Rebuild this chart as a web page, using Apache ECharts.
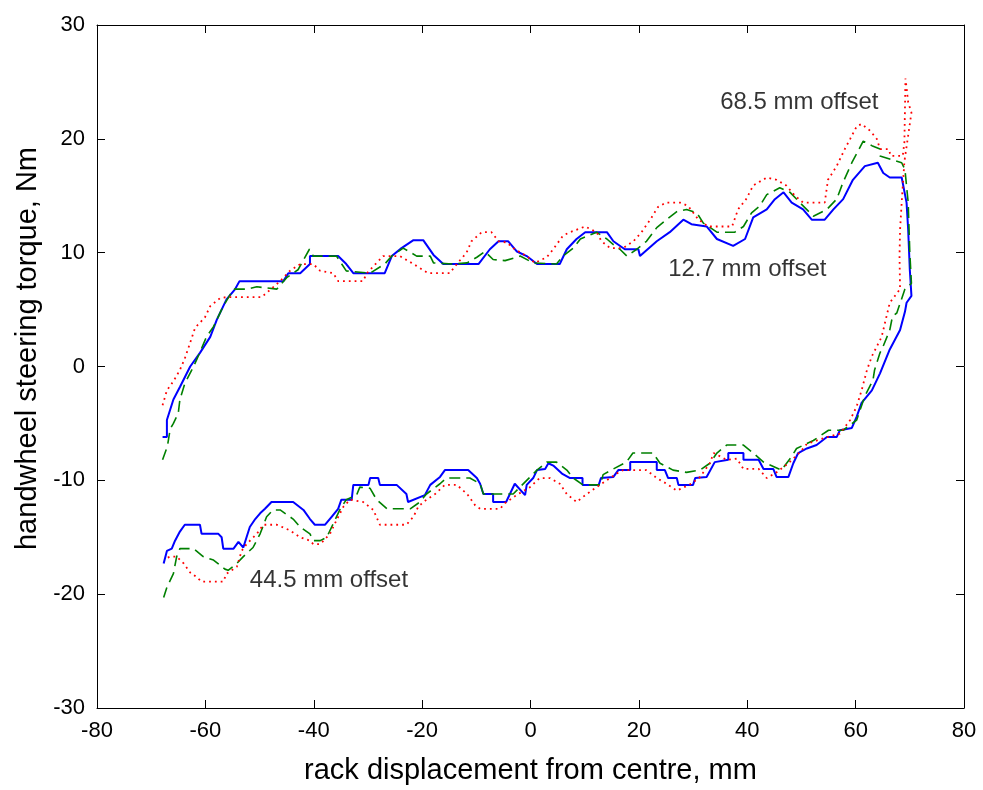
<!DOCTYPE html>
<html>
<head>
<meta charset="utf-8">
<script src="https://cdn.jsdelivr.net/npm/echarts@6/dist/echarts.min.js"></script>
<style>
  html, body { margin: 0; padding: 0; background: #fff; }
  #chart { width: 983px; height: 790px; }
</style>
</head>
<body>
<div id="chart"></div>
<script>
// 12.7 mm offset, solid blue: upper branch left->right, then lower branch right->left
var blueLoop = [
  [-67.9,-6.2],[-67.1,-6.2],[-67.1,-4.7],[-65.9,-2.9],[-64.7,-1.8],[-62.8,0],[-61,1.2],[-59.1,2.6],
  [-57.9,4.1],[-56.1,5.9],[-54.5,6.8],[-53.7,7.5],[-45.6,7.5],[-44.7,8.2],[-42.5,8.2],[-40.7,9.0],
  [-40.7,9.7],[-35.5,9.7],[-34,9.0],[-32.7,8.2],[-26.9,8.2],[-25.6,9.7],[-23.8,10.4],[-21.6,11.1],
  [-19.8,11.1],[-17.9,9.8],[-16.1,9.0],[-9.6,9.0],[-7.5,10.3],[-5.9,11.0],[-4.1,11.0],[-2.5,10.1],
  [-0.7,9.7],[1.2,9.0],[5.4,9.0],[6.7,10.3],[8.5,11.2],[10.1,11.8],[14.1,11.8],[15.3,11.0],
  [17.4,10.3],[19.9,10.3],[20.2,9.7],[23.3,11.0],[25.7,11.8],[28.2,12.9],[29.7,12.5],[32.5,12.3],
  [34.4,11.2],[37.4,10.6],[39.6,11.2],[41.1,13.1],[43.6,13.8],[45.1,14.7],[46.7,15.3],[48.2,14.4],
  [50.3,13.8],[51.9,12.9],[54.3,12.9],[55.9,13.8],[57.7,14.7],[59.5,16.4],[61.7,17.6],[64.1,17.9],
  [65.1,17.0],[66.3,16.6],[68.5,16.6],[69.4,14.4],[69.7,12.0],[70,8.5],[70.3,6.2],
  [69.4,5.6],[69.1,4.8],[68.2,3.2],[66.3,1.5],[64.5,-0.6],[63,-2.1],[61.1,-3.2],[60.2,-4.4],
  [59.3,-5.4],[57.1,-5.6],[56.5,-6.2],[54.7,-6.2],[52.8,-6.9],[51,-7.2],[49.4,-7.6],[48.5,-8.5],
  [47.6,-9.7],[45.4,-9.7],[44.8,-9.0],[43,-9.0],[42.1,-8.2],[39.3,-8.2],[39.3,-7.6],[36.5,-7.6],
  [36.5,-8.2],[34,-8.4],[32.5,-9.7],[30.4,-9.8],[30.0,-10.4],[27.3,-10.4],[27,-9.8],[25.4,-9.8],
  [24.8,-9.1],[23.3,-9.1],[23.3,-8.4],[18.4,-8.4],[18.4,-9.1],[16.2,-9.1],[15.3,-9.7],[13.0,-9.8],
  [12.6,-10.4],[9.6,-10.4],[9.6,-9.8],[7.3,-9.8],[5.8,-9.4],[4.2,-8.7],[3.3,-8.5],[2.7,-9.0],
  [1.2,-9.1],[0.5,-9.8],[-0.7,-10.4],[-1.0,-11.3],[-2.9,-10.3],[-3.8,-11.2],[-4.5,-11.9],[-6.9,-11.9],
  [-6.9,-11.2],[-8.7,-11.2],[-9.3,-10.3],[-9.9,-9.8],[-11.5,-9.1],[-15.8,-9.1],[-16.7,-9.7],[-18.5,-10.4],
  [-19.5,-11.3],[-22.6,-11.9],[-22.9,-11.2],[-24.7,-10.4],[-27.8,-10.4],[-28.1,-9.8],[-29.6,-9.8],
  [-29.9,-10.4],[-32.7,-10.4],[-33,-11.7],[-34.9,-11.7],[-35.5,-12.5],[-36.7,-13.2],[-37.9,-13.9],
  [-39.8,-13.9],[-40.7,-13.4],[-41.9,-12.6],[-43.8,-11.9],[-47.8,-11.9],[-49,-12.5],[-49.9,-12.9],
  [-50.8,-13.4],[-51.8,-14.1],[-52.4,-15.0],[-53,-15.9],[-53.9,-15.4],[-54.8,-16.0],[-56.7,-16.0],
  [-57,-15.0],[-57.6,-14.7],[-60.7,-14.7],[-61,-13.9],[-63.8,-13.9],[-64.7,-14.5],[-65.6,-15.3],
  [-66.2,-16],[-67.1,-16.2],[-67.7,-17.3]
];

// 44.5 mm offset, dashed green
var greenLoop = [
  [-67.9,-8.2],[-67,-7.0],[-66.5,-5.5],[-65.9,-5.0],[-65,-4.1],[-64.7,-2.9],[-63.8,-1.5],[-62.5,-0.3],
  [-61.6,0.6],[-59.8,2.6],[-58.5,3.5],[-56.7,5.3],[-54.8,6.8],[-52.4,6.8],[-50.5,7.0],[-46.8,6.8],
  [-45,7.8],[-42.9,8.5],[-40.8,10.3],[-40.1,9.7],[-35.8,9.7],[-34,8.4],[-29.6,8.2],[-26.9,9.0],
  [-25.6,9.7],[-23.5,10.4],[-21,9.7],[-18.5,9.7],[-17.9,9.1],[-14.2,9.0],[-11.7,9.1],[-9.9,9.6],
  [-8.4,10.1],[-6.9,9.4],[-4.7,9.3],[-1.9,9.7],[0.5,9.1],[4.8,9.0],[6,9.7],[7.9,10.4],[9.2,11.2],
  [12.2,11.8],[14.1,11.2],[15.3,10.7],[16.5,10.3],[17.8,9.7],[19.6,10.3],[21.4,11.0],[23.3,12.2],
  [25.1,12.9],[27,13.6],[28.8,13.8],[30.7,13.5],[31.9,12.6],[34.4,11.8],[37.7,11.8],[39.3,12.3],
  [40.8,13.5],[42.3,14.1],[43.6,15.1],[46,15.7],[47.9,15.3],[49.7,14.4],[52.2,13.2],[54.7,13.8],
  [56.5,14.7],[57.7,16.2],[59.3,17.9],[61.4,19.8],[63,19.4],[64.5,19.1],[64.5,18.5],[68.5,17.9],
  [69.1,17.3],[69.7,14.4],[70,10.0],[70.3,7.3],
  [69.1,6.8],[67.6,4.7],[66.8,4.4],[66.3,3.2],[65.1,1.8],[64.5,1.2],[63.5,-0.3],[63.2,-1.2],
  [61.7,-2.6],[60.2,-4.7],[57.7,-5.6],[55,-5.6],[52.2,-6.5],[49.1,-7.2],[48.2,-7.9],[46.3,-9.1],
  [43,-8.4],[41.1,-7.6],[39.3,-6.9],[36.2,-6.9],[34.4,-7.6],[33.1,-8.5],[31.3,-9.1],[28.8,-9.3],
  [26.3,-9.1],[23.9,-8.5],[22.6,-7.6],[18.9,-7.6],[17.7,-8.4],[15.3,-9.0],[13.4,-9.5],[12.9,-10.4],
  [9.7,-10.4],[7.9,-9.8],[6.7,-9.1],[4.8,-8.4],[3.0,-8.4],[1.2,-9.1],[-0.7,-10.0],[-3.2,-11.2],
  [-8.7,-11.2],[-9.3,-10.3],[-11.2,-9.8],[-15.5,-9.8],[-16.7,-10.3],[-19.2,-11.2],[-20.4,-11.9],
  [-22.2,-12.5],[-26.5,-12.5],[-28.4,-11.7],[-29.6,-10.7],[-31.5,-10.6],[-32.1,-11.3],[-34,-11.7],
  [-35.2,-12.6],[-36.4,-13.8],[-37.6,-15.0],[-38.8,-15.3],[-40.1,-15.3],[-40.7,-14.7],[-42.5,-14.1],
  [-43.8,-13.4],[-46.2,-12.6],[-47.5,-12.6],[-48.7,-13.2],[-49.9,-14.7],[-51.2,-15.9],[-53,-16.7],
  [-54.2,-17.3],[-55.8,-17.9],[-56.4,-17.8],[-58.5,-17.0],[-60.4,-16.7],[-62.2,-16.0],[-64.7,-16.0],
  [-65.3,-16.7],[-65.9,-18.2],[-67.1,-19.4],[-67.7,-20.3]
];

// 68.5 mm offset, dotted red
var redLoop = [
  [-67.9,-3.4],[-67.1,-2.1],[-65.9,-1.3],[-64.7,-0.3],[-63.8,0.7],[-62.8,2.1],[-61.9,3.4],[-60.1,4.3],
  [-59.1,5.3],[-57.3,6.0],[-56.1,6.1],[-49.6,6.1],[-46.2,7.5],[-44.4,8.4],[-42.5,9.0],[-40.1,9.0],
  [-38.8,8.4],[-36.4,8.2],[-35.5,7.5],[-30.9,7.5],[-30.2,8.2],[-28.4,9.1],[-27.2,9.7],[-24.1,9.7],
  [-21.6,9.0],[-18.9,8.2],[-14.9,8.2],[-13.6,9.0],[-11.8,10.0],[-10.9,11.0],[-9.0,11.8],[-7.2,11.8],
  [-5.9,11.0],[-4.4,10.9],[-2.9,10.3],[-0.7,9.7],[0.8,9.1],[3.0,9.6],[4.2,10.3],[6.0,11.5],[7.3,11.8],
  [10.1,12.3],[12.2,11.8],[13.1,11.0],[14.7,10.4],[17.1,10.4],[19,11.0],[20.5,11.8],[22.1,12.9],
  [23.5,14.0],[25,14.4],[27.6,14.4],[29.1,14.1],[31,12.9],[32.8,12.3],[37.2,12.3],[38.3,13.8],
  [39.8,14.7],[41.1,15.9],[43.6,16.6],[45.4,16.4],[47.2,15.9],[48.8,15.0],[50.3,14.4],[54.3,14.4],
  [54.9,16.4],[56.5,17.6],[58.0,19.1],[59,20.0],[60.2,21.1],[61.1,21.3],[62.7,20.7],[63.9,20.0],
  [64.5,19.1],[66.1,19.1],[66.5,18.5],[68.7,18.5],[69.0,19.7],[69.2,25.3],[69.7,23.2],[70.3,22.3],
  [69.0,18.0],[68.5,14.4],[68.2,12.0],[68.1,9.7],[68.2,6.8],
  [66.3,5.6],[65.7,4.4],[64.8,2.6],[63,0.9],[62.1,-0.3],[61.1,-2.1],[60.2,-3.5],[59,-4.7],[57.1,-5.9],
  [54.7,-6.2],[51,-6.8],[49.8,-7.5],[47.6,-8.5],[45.4,-9.3],[43.6,-9.8],[42.1,-9.0],[39.3,-9.0],
  [38.1,-8.1],[36.2,-8.2],[33.8,-7.6],[33.1,-8.5],[31.3,-9.7],[29.7,-10.3],[27,-10.9],[25.1,-10.3],
  [23.3,-9.8],[21.4,-9.1],[17.1,-9.1],[15.9,-9.4],[14.7,-9.8],[12.2,-10.6],[10.4,-11.2],[8.5,-11.9],
  [6.7,-11.2],[5.4,-10.3],[3.6,-9.8],[1.7,-9.8],[-0.1,-10.6],[-2.6,-11.3],[-4.7,-12.0],[-5.6,-12.5],
  [-9.3,-12.5],[-10.2,-12.2],[-11.7,-11.2],[-13.6,-10.4],[-15.8,-10.4],[-17.6,-11.2],[-19.2,-11.7],
  [-20.7,-12.3],[-21.6,-13.2],[-22.9,-13.9],[-27.8,-13.9],[-29,-12.6],[-30.9,-11.9],[-33.3,-11.7],
  [-34.5,-12.3],[-35.8,-13.5],[-37,-14.7],[-38.8,-15.6],[-40.1,-15.6],[-40.7,-15.3],[-42.5,-15.0],
  [-44.4,-14.4],[-46.8,-13.9],[-49.3,-13.9],[-50.5,-14.7],[-52.4,-15.6],[-53.3,-16.2],[-54.2,-17.6],
  [-56.1,-18.2],[-56.7,-18.9],[-60.7,-18.9],[-61.6,-18.5],[-62.8,-18.1],[-64,-17.3],[-65.3,-16.7],
  [-66.5,-16.7],[-67.5,-16.9]
];

// text notes, anchored at their left end
var noteTexts = ['68.5 mm offset', '12.7 mm offset', '44.5 mm offset'];
var noteX = [35.0, 25.4, -51.8];
var noteY = [23.2, 8.5, -18.8];

var xTitle = 'rack displacement from centre, mm';
var yTitle = 'handwheel steering torque, Nm';

var FONT = 'Liberation Sans, Arial, sans-serif';

var notesData = noteTexts.map(function (t, i) {
  return { value: [noteX[i], noteY[i]], name: t };
});

// plain axis used for the top and right sides of the box (ticks only)
function boxAxis(pos) {
  var isX = pos === 'top';
  return {
    type: 'value', position: pos,
    min: isX ? -80 : -30, max: isX ? 80 : 30, interval: isX ? 20 : 10,
    axisLine: { show: true, onZero: false, lineStyle: { color: '#000', width: 1 } },
    axisTick: { show: true, inside: true, length: 8, lineStyle: { color: '#000' } },
    axisLabel: { show: false }, splitLine: { show: false }
  };
}

var chart = echarts.init(document.getElementById('chart'), null, { renderer: 'canvas' });
chart.setOption({
  animation: false,
  backgroundColor: '#fff',
  grid: { left: 97, right: 19, top: 25, bottom: 82 },
  xAxis: [{
    type: 'value', position: 'bottom', min: -80, max: 80, interval: 20,
    name: xTitle, nameLocation: 'middle', nameGap: 48,
    nameTextStyle: { fontFamily: FONT, fontSize: 29, color: '#000' },
    axisLine: { onZero: false, lineStyle: { color: '#000', width: 1 } },
    axisTick: { inside: true, length: 8, lineStyle: { color: '#000' } },
    axisLabel: { margin: 12, fontFamily: FONT, fontSize: 22, color: '#000' },
    splitLine: { show: false }
  }, boxAxis('top')],
  yAxis: [{
    type: 'value', position: 'left', min: -30, max: 30, interval: 10,
    name: yTitle, nameLocation: 'middle', nameGap: 52,
    nameTextStyle: { fontFamily: FONT, fontSize: 29, color: '#000', padding: [0, 0, 0, 36] },
    axisLine: { onZero: false, lineStyle: { color: '#000', width: 1 } },
    axisTick: { inside: true, length: 8, lineStyle: { color: '#000' } },
    axisLabel: { margin: 12, fontFamily: FONT, fontSize: 22, color: '#000' },
    splitLine: { show: false }
  }, boxAxis('right')],
  series: [
    {
      name: '44.5 mm offset', type: 'line', data: greenLoop, symbol: 'none',
      lineStyle: { color: '#008000', width: 1.6, type: [11, 6] }, z: 2
    },
    {
      name: '68.5 mm offset', type: 'line', data: redLoop, symbol: 'none',
      lineStyle: { color: '#ff0000', width: 1.8, type: [1.8, 4] }, z: 3
    },
    {
      name: '12.7 mm offset', type: 'line', data: blueLoop, symbol: 'none',
      lineStyle: { color: '#0000ff', width: 2 }, z: 1
    },
    {
      type: 'scatter', data: notesData, symbolSize: 0, silent: true,
      label: {
        show: true, position: 'right', distance: 0,
        formatter: function (p) { return p.name; },
        fontFamily: FONT, fontSize: 24, color: '#000'
      }
    }
  ]
});
</script>
</body>
</html>
